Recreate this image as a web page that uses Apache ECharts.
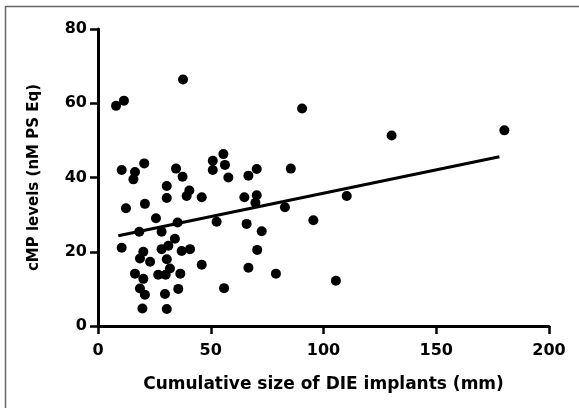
<!DOCTYPE html>
<html>
<head>
<meta charset="utf-8">
<script src="https://cdn.jsdelivr.net/npm/echarts@6/dist/echarts.min.js"></script>
<style>html,body{margin:0;padding:0;background:#fff;}#c{width:579px;height:408px;}</style>
</head>
<body>
<div id="c"></div>
<script>
// Data
const implantSize = [8.0, 11.5, 37.7, 90.5, 130.2, 180.2, 10.5, 16.4, 15.7, 20.5, 34.6, 37.5, 30.5, 30.5, 40.5, 39.3, 46.0, 12.4, 20.8, 25.7, 35.3, 18.3, 28.2, 34.1, 52.6, 55.6, 50.9, 50.9, 56.3, 57.8, 66.7, 70.4, 85.5, 64.9, 70.4, 69.8, 82.9, 65.9, 95.5, 72.6, 70.6, 66.7, 78.9, 55.9, 105.5, 110.3, 10.5, 20.1, 18.6, 23.1, 28.2, 31.2, 40.8, 37.1, 30.5, 31.9, 46.0, 16.4, 20.1, 26.7, 30.0, 36.5, 18.6, 20.8, 29.7, 35.6, 19.7, 30.5];
const cmpLevel = [59.3, 60.7, 66.4, 58.6, 51.3, 52.7, 42.0, 41.5, 39.5, 43.8, 42.4, 40.2, 37.7, 34.5, 36.5, 35.0, 34.7, 31.7, 32.9, 29.0, 27.9, 25.4, 25.4, 23.5, 28.1, 46.3, 44.5, 42.0, 43.4, 40.0, 40.5, 42.3, 42.4, 34.7, 35.2, 33.2, 32.0, 27.5, 28.5, 25.5, 20.5, 15.7, 14.1, 10.2, 12.2, 35.0, 21.1, 20.0, 18.2, 17.3, 20.7, 21.6, 20.7, 20.2, 18.0, 15.5, 16.5, 14.1, 12.7, 13.8, 13.8, 14.1, 10.1, 8.4, 8.6, 10.0, 4.7, 4.6];
const trendX = [9, 178];
const trendY = [24.3, 45.6];
const xTicks = [0, 50, 100, 150, 200];
const yTicks = [0, 20, 40, 60, 80];
const xTitle = 'Cumulative size of DIE implants (mm)';
const yTitle = 'cMP levels (nM PS Eq)';

const points = implantSize.map((x, i) => [x, cmpLevel[i]]);
const trend = trendX.map((x, i) => [x, trendY[i]]);

const chart = echarts.init(document.getElementById('c'), null, {renderer: 'canvas'});
const font = '"DejaVu Sans", "Liberation Sans", Arial, sans-serif';
const axisCommon = {
  axisLine: {show: true, onZero: false, lineStyle: {color: '#000', width: 3}},
  axisTick: {show: true, length: 8, lineStyle: {color: '#000', width: 2.5}},
  splitLine: {show: false},
  axisLabel: {color: '#000', fontFamily: font, fontWeight: 'bold', fontSize: 16}
};
chart.setOption({
  animation: false,
  backgroundColor: '#fff',
  graphic: [{
    type: 'polyline', silent: true,
    shape: {points: [[5.5, 408], [5.5, 6.5], [579, 6.5]]},
    style: {fill: 'none', stroke: '#666', lineWidth: 1.5}
  }],
  grid: {left: 98, right: 30, top: 29, bottom: 82, containLabel: false},
  xAxis: Object.assign({}, axisCommon, {
    type: 'value', min: xTicks[0], max: xTicks[xTicks.length - 1], interval: xTicks[1] - xTicks[0],
    name: xTitle, nameLocation: 'middle', nameGap: 50,
    nameTextStyle: {color: '#000', fontFamily: font, fontWeight: 'bold', fontSize: 17},
    axisLabel: Object.assign({}, axisCommon.axisLabel, {margin: 17})
  }),
  yAxis: Object.assign({}, axisCommon, {
    type: 'value', min: yTicks[0], max: yTicks[yTicks.length - 1], interval: yTicks[1] - yTicks[0],
    name: yTitle, nameLocation: 'middle', nameGap: 56, nameRotate: 90,
    nameTextStyle: {color: '#000', fontFamily: font, fontWeight: 'bold', fontSize: 15},
    axisLabel: Object.assign({}, axisCommon.axisLabel, {margin: 11})
  }),
  series: [{
    type: 'scatter', data: points, symbol: 'circle', symbolSize: 10,
    itemStyle: {color: '#000', opacity: 1}, z: 3
  }, {
    type: 'line', data: trend, showSymbol: false, symbol: 'none',
    lineStyle: {color: '#000', width: 3}, z: 4
  }]
});
</script>
</body>
</html>
